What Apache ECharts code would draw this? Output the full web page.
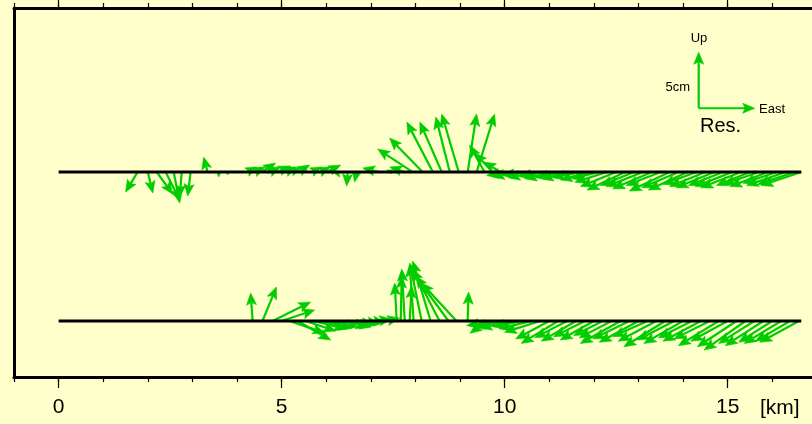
<!DOCTYPE html>
<html>
<head>
<meta charset="utf-8">
<script src="https://cdn.jsdelivr.net/npm/echarts@6/dist/echarts.min.js"></script>
<style>
  html, body { margin: 0; padding: 0; background: #FFFFCC; }
  #chart { width: 812px; height: 424px; }
</style>
</head>
<body>
<div id="chart"></div>
<script>
// profile positions along the line [km], displacements east / up [cm]
var p1X = [1.77, 2.00, 2.20, 2.40, 2.58, 2.76, 2.96, 3.34, 3.59, 3.79, 3.95,
  4.22, 4.39, 4.55, 4.73, 4.89, 5.07, 5.22, 5.36, 5.52, 5.67, 5.85, 6.01,
  6.23, 6.48, 6.68, 7.20, 7.47, 7.76, 7.94, 8.16, 8.39, 8.59, 8.77, 8.97,
  9.17, 9.37, 9.55, 9.73, 9.91,
  10.1, 10.3, 10.5, 10.7, 10.9, 11.1, 11.3, 11.5, 11.7, 11.9, 12.1, 12.3,
  12.5, 12.7, 12.9, 13.1, 13.3, 13.5, 13.7, 13.9, 14.1, 14.3, 14.5, 14.7,
  14.9, 15.1, 15.3, 15.5, 15.7, 15.9, 16.1, 16.3, 16.5, 16.65];
var p1E = [-1.07, 0.45, 1.43, 1.25, 0.54, -0.18, -0.27, -0.36, 0, 0, 0.09,
  0.89, 0.98, 1.25, 0.98, 1.25, 1.07, 0.80, 1.07, 0.18, 0.89, 0.98, 1.25,
  0.27, -0.09, -0.18, -1.52, -0.45, -1.34, -3.13, -2.95, -2.32, -1.96, -1.25, -1.52,
  0.80, 1.61, -1.34, -1.61, -1.52,
  -2.0, -2.3, -2.2, -2.5, -2.3, -2.6, -2.4, -2.7, -2.5, -2.6, -2.4, -2.9,
  -3.2, -3.4, -3.0, -3.3, -3.5, -3.1, -3.6, -3.3, -3.5, -3.0, -3.2, -3.4,
  -3.1, -3.3, -3.6, -3.0, -3.2, -3.4, -3.0, -3.5, -3.3, -3.6];
var p1U = [-1.79, -1.88, -1.96, -2.50, -2.77, -2.23, -2.14, 1.34, -0.45, -0.27, -0.09,
  0.45, 0.45, 0.80, 0.45, 0.54, 0.45, 0.36, 0.63, 0.27, 0.45, 0.45, 0.63,
  -0.45, -1.25, -0.89, 0.36, 0.18, 0.45, 2.05, 3.04, 4.46, 4.46, 4.91, 5.18,
  5.18, 5.18, 2.41, 1.70, 0.89,
  -0.3, -0.4, -0.3, -0.5, -0.4, -0.6, -0.5, -0.6, -0.5, -0.7, -0.6, -0.9,
  -1.3, -1.6, -1.2, -1.3, -1.5, -1.2, -1.7, -1.4, -1.6, -1.1, -1.3, -1.4,
  -1.2, -1.3, -1.4, -1.2, -1.1, -1.3, -1.0, -1.2, -1.1, -1.2];

var p2X = [4.35, 4.57, 4.80, 5.00, 5.18, 5.36, 5.54, 5.72, 5.90, 6.08, 6.26,
  6.43, 6.61, 6.79, 6.97, 7.15, 7.33, 7.58, 7.67, 7.76, 7.87, 7.96, 8.14,
  8.34, 8.54, 8.74, 8.92, 9.17,
  9.6, 9.8, 10.0, 10.2, 10.4, 10.6, 10.8, 11.0, 11.2, 11.4, 11.6, 11.8,
  12.0, 12.2, 12.4, 12.6, 12.8, 13.0, 13.2, 13.4, 13.6, 13.8, 14.0, 14.2,
  14.4, 14.6, 14.8, 15.0, 15.2, 15.4, 15.6, 15.8, 16.0, 16.2, 16.4, 16.6];
var p2E = [-0.18, 1.25, 3.39, 2.95, 3.13, 2.95, 2.68, 2.86, 2.68, 2.50, 2.68,
  2.32, 1.79, 1.61, 1.43, 1.25, 1.25, -0.18, 0.09, -0.27, 0.18, -0.36, -1.07,
  -1.61, -2.41, -2.95, -3.13, 0.09,
  -1.5, -2.6, -2.8, -3.0, -2.7, -2.9, -3.2, -3.0, -3.3, -2.9, -3.1, -2.8,
  -3.0, -2.6, -2.9, -3.6, -3.3, -3.5, -3.1, -3.4, -3.7, -3.3, -3.5, -3.0,
  -3.4, -3.2, -3.6, -3.3, -3.5, -3.7, -3.2, -3.4, -3.0, -3.3, -3.1, -3.5];
var p2U = [2.50, 3.04, 1.70, 0.98, -1.07, -1.70, -0.89, -0.71, -0.63, -0.54, -0.45,
  -0.54, -0.36, -0.27, -0.09, 0.18, 0.27, 3.39, 4.02, 4.64, 3.13, 5.00, 5.18,
  5.36, 4.64, 4.02, 3.39, 2.59,
  -1.1, -0.4, -0.5, -0.6, -0.5, -0.7, -1.0, -1.6, -2.0, -1.5, -1.8, -1.4,
  -1.7, -1.3, -1.5, -2.0, -1.6, -1.9, -1.4, -1.8, -2.3, -1.7, -2.0, -1.5,
  -1.8, -1.6, -2.2, -1.8, -2.3, -2.6, -2.0, -2.2, -1.9, -2.0, -1.8, -1.9];

// baselines of the two profiles [cm on the plot's vertical scale]
var base1 = 18.3;
var base2 = 5.0;
var lineStart = 0;
var lineEnd = 16.65;

// scale key: 5 cm east and 5 cm up
var keyX = 14.35;
var keyY = 24.0;
var keyE = [5, 0];
var keyU = [0, 5];

var majorTicks = [0, 5, 10, 15];
var minorTicks = [-1, 0, 1, 2, 3, 4, 5, 6, 7, 8, 9, 10, 11, 12, 13, 14, 15, 16];

var GREEN = '#00CC00';

function renderArrow(params, api) {
  var p0 = api.coord([api.value(0), api.value(1)]);
  var unit = api.size([0, 1])[1];
  var dx = api.value(2) * unit;
  var dy = -api.value(3) * unit;
  var len = Math.sqrt(dx * dx + dy * dy);
  if (len < 0.5) return;
  var ux = dx / len, uy = dy / len;
  var hl = Math.min(12, len);
  var hw = 5 * hl / 12;
  var tip = [p0[0] + dx, p0[1] + dy];
  var base = [tip[0] - ux * hl, tip[1] - uy * hl];
  var notch = [tip[0] - ux * hl * 0.8, tip[1] - uy * hl * 0.8];
  var left = [base[0] - uy * hw, base[1] + ux * hw];
  var right = [base[0] + uy * hw, base[1] - ux * hw];
  return {
    type: 'group',
    children: [
      { type: 'line', shape: { x1: p0[0], y1: p0[1], x2: notch[0], y2: notch[1] },
        style: { stroke: GREEN, lineWidth: 2.2 } },
      { type: 'polygon', shape: { points: [tip, left, notch, right] },
        style: { fill: GREEN, stroke: GREEN, lineWidth: 0.6 } }
    ]
  };
}

function vectors(xs, y, es, us) {
  return xs.map(function (x, i) { return [x, y, es[i], us[i]]; });
}

var chart = echarts.init(document.getElementById('chart'));
var font = "'Liberation Sans', Arial, sans-serif";

var option = {
  backgroundColor: '#FFFFCC',
  animation: false,
  grid: { left: 14, right: 0, top: 8, bottom: 47, show: false },
  xAxis: [
    {
      type: 'value', position: 'bottom', min: -1, max: 16.89,
      axisLine: { show: true, onZero: false, lineStyle: { color: '#000', width: 3 } },
      axisTick: { show: true, customValues: majorTicks, length: 11, lineStyle: { color: '#000', width: 1.2 } },
      axisLabel: { customValues: majorTicks, color: '#000', fontSize: 21, fontFamily: font, margin: 20 },
      splitLine: { show: false }
    },
    {
      type: 'value', position: 'bottom', min: -1, max: 16.89,
      axisLine: { show: false, onZero: false },
      axisTick: { show: true, customValues: minorTicks, length: 5, lineStyle: { color: '#000', width: 1.2 } },
      axisLabel: { show: false },
      splitLine: { show: false }
    },
    {
      type: 'value', position: 'top', min: -1, max: 16.89,
      axisLine: { show: true, onZero: false, lineStyle: { color: '#000', width: 3 } },
      axisTick: { show: true, customValues: majorTicks, length: 8, lineStyle: { color: '#000', width: 1.2 } },
      axisLabel: { show: false },
      splitLine: { show: false }
    },
    {
      type: 'value', position: 'top', min: -1, max: 16.89,
      axisLine: { show: false, onZero: false },
      axisTick: { show: true, customValues: minorTicks, length: 5, lineStyle: { color: '#000', width: 1.2 } },
      axisLabel: { show: false },
      splitLine: { show: false }
    }
  ],
  yAxis: {
    type: 'value', min: 0, max: 32.95,
    axisLine: { show: true, onZero: false, lineStyle: { color: '#000', width: 3 } },
    axisTick: { show: false },
    axisLabel: { show: false },
    splitLine: { show: false }
  },
  graphic: [
    { type: 'text', left: 760, top: 398, style: { text: '[km]', font: '21px ' + font, fill: '#000' } },
    { type: 'text', x: 699, y: 38, style: { text: 'Up', font: '13px ' + font, fill: '#000', align: 'center', verticalAlign: 'middle' } },
    { type: 'text', x: 690, y: 87, style: { text: '5cm', font: '13px ' + font, fill: '#000', align: 'right', verticalAlign: 'middle' } },
    { type: 'text', x: 759, y: 109, style: { text: 'East', font: '13px ' + font, fill: '#000', align: 'left', verticalAlign: 'middle' } },
    { type: 'text', x: 700, y: 126, style: { text: 'Res.', font: '20px ' + font, fill: '#000', align: 'left', verticalAlign: 'middle' } }
  ],
  series: [
    {
      type: 'line', xAxisIndex: 0, symbol: 'none', silent: true,
      lineStyle: { color: '#000', width: 3 },
      data: [[lineStart, base1], [lineEnd, base1]]
    },
    {
      type: 'line', xAxisIndex: 0, symbol: 'none', silent: true,
      lineStyle: { color: '#000', width: 3 },
      data: [[lineStart, base2], [lineEnd, base2]]
    },
    {
      type: 'custom', xAxisIndex: 0, renderItem: renderArrow,
      data: vectors(p1X, base1, p1E, p1U)
    },
    {
      type: 'custom', xAxisIndex: 0, renderItem: renderArrow,
      data: vectors(p2X, base2, p2E, p2U)
    },
    {
      type: 'custom', xAxisIndex: 0, renderItem: renderArrow,
      data: keyE.map(function (e, i) { return [keyX, keyY, e, keyU[i]]; })
    }
  ]
};

chart.setOption(option);
</script>
</body>
</html>
